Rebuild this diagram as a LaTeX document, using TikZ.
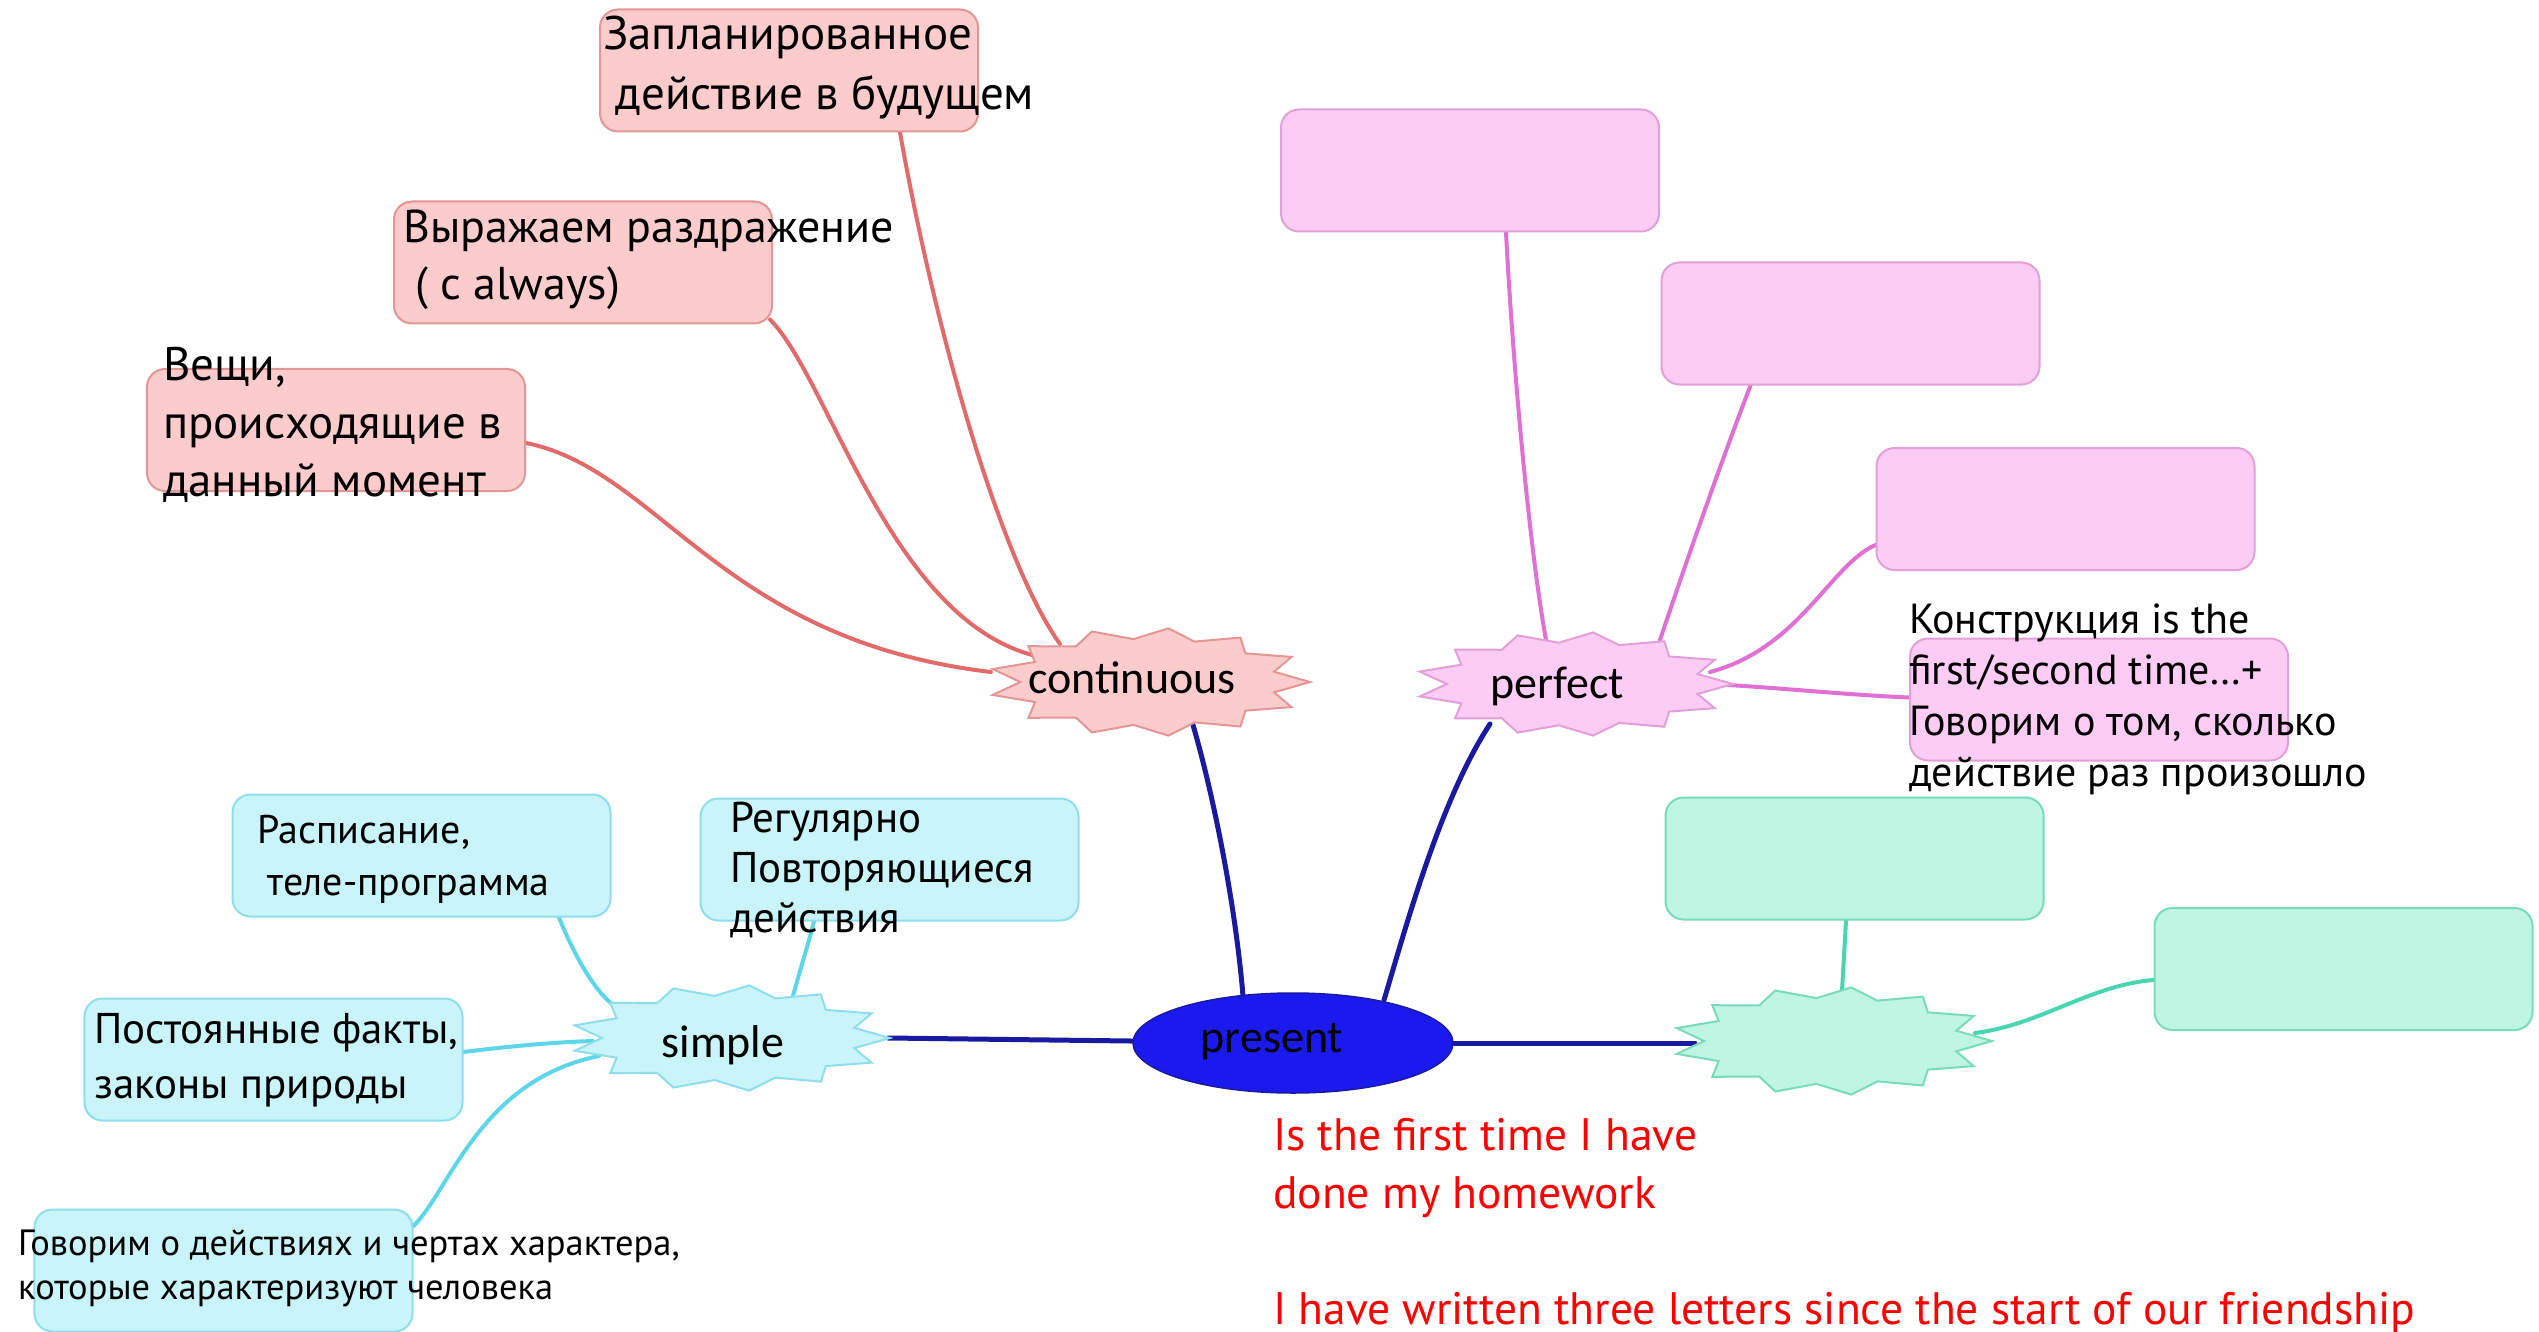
\documentclass[tikz,border=0pt]{standalone}
\usepackage{fontspec}
\setmainfont{PT Sans}
\newfontfamily\lblfont{Carlito}
\usetikzlibrary{calc,shapes.geometric}
\pgfdeclarelayer{background}
\pgfsetlayers{background,main}
\definecolor{contfill}{RGB}{252,204,204}
\definecolor{contdraw}{RGB}{228,150,150}
\definecolor{contline}{RGB}{226,106,106}
\definecolor{magfill}{RGB}{252,204,244}
\definecolor{magdraw}{RGB}{226,160,216}
\definecolor{magline}{RGB}{224,112,212}
\definecolor{cyanfill}{RGB}{200,244,250}
\definecolor{cyandraw}{RGB}{142,222,236}
\definecolor{cyanline}{RGB}{92,214,232}
\definecolor{grnfill}{RGB}{190,245,227}
\definecolor{grndraw}{RGB}{120,220,186}
\definecolor{grnline}{RGB}{72,214,176}
\definecolor{presfill}{RGB}{26,26,238}
\definecolor{presline}{RGB}{26,26,160}
\definecolor{redtext}{RGB}{255,0,0}
\newcommand\burstshape[5]{%
  \path[#5] plot[variable=\k, samples at={0,...,25}]
    ({#1+#3*(1-0.2*mod(\k,2))*cos(\k*360/26)}, {#2+#4*(1-0.2*mod(\k,2))*sin(\k*360/26)}) -- cycle;}
\begin{document}
\begin{tikzpicture}[x=1bp,y=-1bp,
  box/.style={rounded corners=18bp, minimum width=378bp, minimum height=122bp, line width=2bp, inner sep=0},
  pinkbox/.style={box, fill=contfill, draw=contdraw},
  magbox/.style={box, fill=magfill, draw=magdraw},
  cyanbox/.style={box, fill=cyanfill, draw=cyandraw},
  grnbox/.style={box, fill=grnfill, draw=grndraw},
  hub/.style={ellipse, inner sep=0, minimum width=260bp, minimum height=86bp},
  conn/.style={line width=4bp, line cap=round},
  pinkconn/.style={conn, draw=contline},
  magconn/.style={conn, draw=magline},
  cyanconn/.style={conn, draw=cyanline},
  grnconn/.style={conn, draw=grnline},
  blueconn/.style={conn, line width=5bp, draw=presline},
  txt/.style={anchor=base west, inner sep=0, align=left, text=black},
  lbl/.style={anchor=base, inner sep=0, font=\lblfont\fontsize{46bp}{50bp}\selectfont},
  burstA/.style={fill=contfill, draw=contdraw, line width=2bp},
  burstB/.style={fill=magfill, draw=magdraw, line width=2bp},
  burstC/.style={fill=cyanfill, draw=cyandraw, line width=2bp},
  burstD/.style={fill=grnfill, draw=grndraw, line width=2bp}]
\useasboundingbox (0,0) rectangle (2539,1332);

% hubs
\node[ellipse, inner sep=0, minimum width=320bp, minimum height=100bp, fill=presfill, draw=presline, line width=1.5bp] (pres) at (1293,1043) {};
\node[hub] (cont) at (1149,682) {};
\node[hub] (perf) at (1574,684) {};
\node[hub] (simp) at (730,1038) {};
\node[hub] (green) at (1832,1041) {};

\burstshape{1149}{682}{161}{54}{burstA}
\burstshape{1574}{684}{159}{52}{burstB}
\burstshape{730}{1038}{160}{53}{burstC}
\burstshape{1832}{1041}{160}{54}{burstD}

% boxes
\node[pinkbox] (p1) at (789,70.5) {};
\node[pinkbox] (p2) at (583,262.5) {};
\node[pinkbox] (p3) at (336,430) {};
\node[magbox] (m1) at (1470,170.5) {};
\node[magbox] (m2) at (1850.5,323.5) {};
\node[magbox] (m3) at (2065.5,509) {};
\node[magbox] (m4) at (2099,699.5) {};
\node[cyanbox] (s1) at (421.5,855.5) {};
\node[cyanbox] (s2) at (889.5,859.5) {};
\node[cyanbox] (s3) at (273.5,1059.5) {};
\node[cyanbox] (s4) at (223.5,1270.5) {};
\node[grnbox] (g1) at (1854.5,858.5) {};
\node[grnbox] (g2) at (2343.5,969) {};

% connectors
\begin{pgfonlayer}{background}
\draw[pinkconn] ($(p1.south)+(111,0)$) .. controls (935,330) and (1000,560) .. ($(cont)+(-89,-38)$);
\draw[pinkconn] ($(p2.south east)+(-3,-5)$) .. controls (830,380) and (890,620) .. ($(cont)+(-113,-26)$);
\draw[pinkconn] ($(p3.east)+(0,13)$) .. controls (660,470) and (720,640) .. ($(cont)+(-158,-10)$);
\draw[magconn] ($(m1.south)+(36,0)$) .. controls (1512,350) and (1528,540) .. ($(perf)+(-28,-44)$);
\draw[magconn] ($(m2.south)+(-100,0)$) .. controls (1718,470) and (1680,580) .. ($(perf)+(86,-44)$);
\draw[magconn] ($(m3.west)+(0,36)$) .. controls (1830,565) and (1800,648) .. ($(perf)+(136,-12)$);
\draw[magconn] ($(m4.west)+(0,-2)$) .. controls (1850,695) and (1780,688) .. ($(perf)+(154,1)$);
\draw[blueconn] ($(pres)+(-50,-47)$) .. controls (1235,900) and (1212,790) .. ($(cont)+(44,43)$);
\draw[blueconn] ($(pres)+(91,-43)$) .. controls (1405,930) and (1440,800) .. ($(perf)+(-84,40)$);
\draw[blueconn] (pres) -- ($(simp)+(158,0)$);
\draw[blueconn] (pres) -- ($(green)+(-137,2)$);
\draw[cyanconn] ($(s1.south)+(137.5,0)$) .. controls (572,950) and (592,988) .. ($(simp)+(-118,-34)$);
\draw[cyanconn] ($(s2.south)+(-75.5,0)$) .. controls (808,945) and (800,970) .. ($(simp)+(63,-42)$);
\draw[cyanconn] ($(s3.east)+(0,-7.5)$) .. controls (520,1045) and (560,1042) .. ($(simp)+(-137,3)$);
\draw[cyanconn] ($(s4.east)+(0,-44.5)$) .. controls (450,1190) and (480,1080) .. ($(simp)+(-131,18)$);
\draw[grnconn] ($(g1.south)+(-8.5,0)$) -- ($(green)+(10,-50)$);
\draw[grnconn] ($(g2.west)+(0,11)$) .. controls (2090,985) and (2040,1025) .. ($(green)+(143,-8)$);
\end{pgfonlayer}

% labels
\node[lbl] (contt) at (1132,693) {continuous};
\node[lbl] (perft) at (1557,698) {perfect};
\node[lbl] (simpt) at (723,1057) {simple};
\node[lbl] (prest) at (1272,1052) {present};

% texts (anchor = baseline of the last line)
\node[txt, font=\fontsize{47bp}{60bp}\selectfont] (p1t) at (603,110) {Запланированное\\~действие в будущем};
\node[txt, font=\fontsize{46bp}{57bp}\selectfont] (p2t) at (403,300) {Выражаем раздражение\\~( c always)};
\node[txt, font=\fontsize{47bp}{58bp}\selectfont] (p3t) at (163,496) {Вещи,\\происходящие в\\данный момент};
\node[txt, font=\fontsize{40bp}{52bp}\selectfont] (s1t) at (257,895) {Расписание,\\~теле-программа};
\node[txt, font=\fontsize{43bp}{50bp}\selectfont] (s2t) at (730,932) {Регулярно\\Повторяющиеся\\действия};
\node[txt, font=\fontsize{43bp}{55bp}\selectfont] (s3t) at (94,1098) {Постоянные факты,\\законы природы};
\node[txt, font=\fontsize{36.5bp}{44bp}\selectfont] (s4t) at (18,1299) {Говорим о действиях и чертах характера,\\которые характеризуют человека};
\node[txt, font=\fontsize{42bp}{51bp}\selectfont] (m4t) at (1909,786) {Конструкция is the\\first/second time…+\\Говорим о том, сколько\\действие раз произошло};
\node[txt, text=redtext, font=\fontsize{45.5bp}{58bp}\selectfont] (redt) at (1273,1324) {Is the first time I have\\done my homework\\~\\I have written three letters since the start of our friendship};
\end{tikzpicture}
\end{document}
